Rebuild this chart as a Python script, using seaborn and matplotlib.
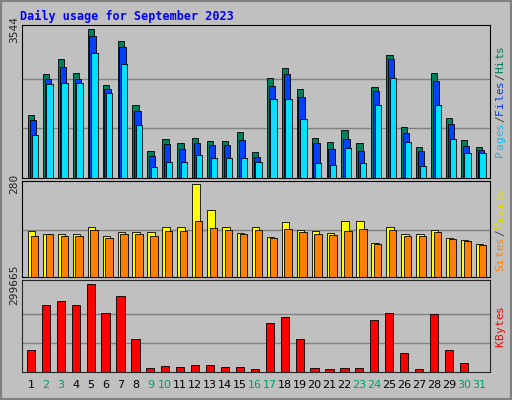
import numpy as np
import matplotlib
matplotlib.use("Agg")
import matplotlib.pyplot as plt
import seaborn as sns
import pandas as pd

days = list(range(1, 32))
weekend = [2, 3, 9, 10, 16, 17, 23, 24, 30, 31]
hits = [1495, 2483, 2845, 2507, 3544, 2218, 3279, 1736, 651, 940, 844, 964, 892, 892, 1109, 627,
        2387, 2628, 2122, 964, 868, 1157, 844, 2170, 2941, 1205, 747, 2507, 1422, 916, 747]
files = [1374, 2362, 2651, 2362, 3398, 2121, 3133, 1591, 530, 819, 699, 844, 795, 795, 916, 506,
         2193, 2482, 1928, 844, 699, 940, 651, 2073, 2844, 1085, 651, 2314, 1277, 771, 675]
pages = [1036, 2241, 2265, 2265, 2988, 2024, 2723, 1253, 265, 386, 386, 554, 482, 482, 482, 386,
         1880, 1880, 1398, 362, 313, 723, 362, 1735, 2386, 868, 289, 1735, 940, 602, 602]
visits = [137, 128, 128, 128, 149, 124, 134, 134, 134, 149, 149, 280, 202, 149, 131, 149,
          121, 165, 140, 137, 131, 168, 168, 103, 149, 128, 128, 140, 118, 112, 100]
sites = [124, 130, 124, 124, 140, 118, 130, 130, 124, 137, 137, 168, 146, 140, 130, 140,
         118, 143, 134, 130, 127, 137, 143, 100, 140, 124, 124, 134, 115, 109, 96]
kbytes = [76660, 230000, 244000, 230000, 299665, 202000, 261000, 111500, 14000, 20000, 17000,
          24000, 24000, 17000, 17000, 10000, 167000, 188000, 111500, 14000, 10000, 14000, 14000,
          178000, 202000, 66000, 10000, 198600, 76660, 31000, 0]

sns.set_style("white")
plt.rcParams['font.family'] = ['DejaVu Sans Mono', 'DejaVu Sans']
bg = "#c0c0c0"
fig = plt.figure(figsize=(5.12, 4.0), dpi=100, facecolor=bg)
W, H = 512, 400

def mkax(y0, y1):
    ax = fig.add_axes([22 / W, 1 - y1 / H, (490 - 22) / W, (y1 - y0) / H])
    ax.set_facecolor(bg)
    for s in ax.spines.values():
        s.set_color("black")
        s.set_linewidth(0.8)
    ax.set_xlim(0.4, 31.75)
    ax.set_xticks([])
    return ax

x = np.array(days, dtype=float)
w = 0.42

ax1 = mkax(25, 178)
top1 = max(hits) * 1.03
ax1.set_ylim(0, top1)
for g in [max(hits) / 3, 2 * max(hits) / 3]:
    ax1.axhline(g, color="#808080", lw=1, zorder=0)
ax1.bar(x - 0.2, hits, w, color="#00805c", edgecolor="black", lw=0.6, align="edge", zorder=2)
ax1.bar(x - 0.08, files, w, color="#0040ff", edgecolor="black", lw=0.6, align="edge", zorder=3)
ax1.bar(x + 0.04, pages, w, color="#00e0ff", edgecolor="black", lw=0.6, align="edge", zorder=4)
ax1.set_yticks([max(hits)])
ax1.set_yticklabels([str(max(hits))], rotation=90, va="center", fontsize=8)
ax1.tick_params(length=0, pad=2)

ax2 = mkax(181, 277)
ax2.set_ylim(0, max(visits) * 1.03)
ax2.axhline(max(visits) / 2, color="#808080", lw=1, zorder=0)
ax2.bar(x - 0.2, visits, 0.5, color="#ffff00", edgecolor="black", lw=0.6, align="edge", zorder=2)
ax2.bar(x - 0.02, sites, 0.5, color="#ff8000", edgecolor="black", lw=0.6, align="edge", zorder=3)
ax2.set_yticks([max(visits)])
ax2.set_yticklabels([str(max(visits))], rotation=90, va="center", fontsize=8)
ax2.tick_params(length=0, pad=2)

ax3 = fig.add_axes([22 / W, 1 - 372 / H, (490 - 22) / W, (372 - 280) / H])
ax3.set_facecolor(bg)
df = pd.DataFrame({"day": [str(d) for d in days], "kb": kbytes})
sns.barplot(data=df, x="day", y="kb", color="#ff0000", edgecolor="black", linewidth=0.6,
            width=0.55, saturation=1, ax=ax3, zorder=2)
ax3.set_xlim(-0.6, 30.75)
ax3.set_ylim(0, max(kbytes) * 1.05)
ax3.axhline(max(kbytes) / 3, color="#808080", lw=1, zorder=0)
ax3.axhline(2 * max(kbytes) / 3, color="#808080", lw=1, zorder=0)
ax3.set_xlabel("")
ax3.set_ylabel("")
ax3.set_yticks([max(kbytes)])
ax3.set_yticklabels([str(max(kbytes))], rotation=90, va="center", fontsize=8)
ax3.tick_params(length=0, pad=2)
ax3.set_xticks(range(31))
ax3.set_xticklabels([str(d) for d in days], fontsize=8, fontfamily="DejaVu Sans")
for lab, d in zip(ax3.get_xticklabels(), days):
    lab.set_color("#00a060" if d in weekend else "black")
ax3.tick_params(axis="x", pad=6)
for s in ax3.spines.values():
    s.set_linewidth(0.8)

fig.text(20 / W, 1 - 16 / H, "Daily usage for September 2023", color="#0000ff",
         fontsize=8.5, fontweight="bold", va="center")

def side(y0, y1, parts):
    yc = 1 - (y0 + y1) / 2 / H
    n = sum(len(p) for p, _ in parts)
    step = 7.0 / H
    pos = yc - n * step / 2
    for txt, col in parts:
        for ch in txt:
            fig.text(500 / W, pos + step / 2, ch, color=col, fontsize=8, rotation=90,
                     ha="center", va="center")
            pos += step

side(25, 178, [("Pages", "#00c0ff"), ("/", "#404040"), ("Files", "#0040ff"), ("/", "#404040"), ("Hits", "#00805c")])
side(181, 277, [("Sites", "#ff8000"), ("/", "#404040"), ("Visits", "#e0e000")])
side(280, 372, [("KBytes", "#ff0000")])

fig.patches.append(plt.Rectangle((1 / W, 1 / H), 1 - 2 / W, 1 - 2 / H, transform=fig.transFigure,
                                 fill=False, edgecolor="#808080", lw=1.5))
fig.savefig("out.png", dpi=100, facecolor=bg)
